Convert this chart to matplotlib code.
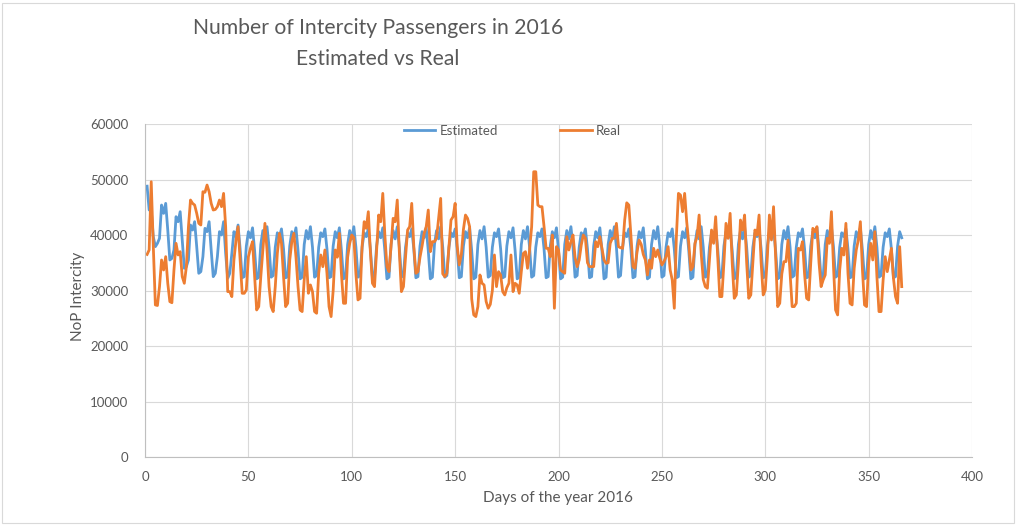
import numpy as np
import matplotlib.pyplot as plt
from matplotlib.patches import Rectangle

plt.rcParams['font.family'] = ['Lato', 'DejaVu Sans']

days = np.arange(1, 367)

# estimated passengers per day
estimated = [
    48800, 44500, 44500, 39700, 37900, 38500, 39400,
    45400, 43900, 45700, 40900, 35500, 35800, 37300,
    43300, 42400, 44200, 39100, 34000, 34300, 35500,
    41800, 40900, 42400, 37900, 33100, 33400, 36100,
    41200, 40600, 42400, 37300, 32500, 33100, 36100,
    40600, 40000, 42400, 36700, 32200, 33100, 36700,
    40600, 39700, 41800,
    37500, 32300, 32500, 38000, 40600, 39500, 41300,
    37200, 32100, 32400, 38300, 40800, 39300, 41500,
    37800, 32400, 32700, 37800, 40400, 39700, 41100,
    37500, 32300, 32500, 38000, 40600, 39500, 41300,
    37200, 32100, 32400, 38300, 40800, 39300, 41500,
    37800, 32400, 32700, 37800, 40400, 39700, 41100,
    37500, 32300, 32500, 38000, 40600, 39500, 41300,
    37200, 32100, 32400, 38300, 40800, 39300, 41500,
    37800, 32400, 32700, 37800, 40400, 39700, 41100,
    37500, 32300, 32500, 38000, 40600, 39500, 41300,
    37200, 32100, 32400, 38300, 40800, 39300, 41500,
    37800, 32400, 32700, 37800, 40400, 39700, 41100,
    37500, 32300, 32500, 38000, 40600, 39500, 41300,
    37200, 32100, 32400, 38300, 40800, 39300, 41500,
    37800, 32400, 32700, 37800, 40400, 39700, 41100,
    37500, 32300, 32500, 38000, 40600, 39500, 41300,
    37200, 32100, 32400, 38300, 40800, 39300, 41500,
    37800, 32400, 32700, 37800, 40400, 39700, 41100,
    37500, 32300, 32500, 38000, 40600, 39500, 41300,
    37200, 32100, 32400, 38300, 40800, 39300, 41500,
    37800, 32400, 32700, 37800, 40400, 39700, 41100,
    37500, 32300, 32500, 38000, 40600, 39500, 41300,
    37200, 32100, 32400, 38300, 40800, 39300, 41500,
    37800, 32400, 32700, 37800, 40400, 39700, 41100,
    37500, 32300, 32500, 38000, 40600, 39500, 41300,
    37200, 32100, 32400, 38300, 40800, 39300, 41500,
    37800, 32400, 32700, 37800, 40400, 39700, 41100,
    37500, 32300, 32500, 38000, 40600, 39500, 41300,
    37200, 32100, 32400, 38300, 40800, 39300, 41500,
    37800, 32400, 32700, 37800, 40400, 39700, 41100,
    37500, 32300, 32500, 38000, 40600, 39500, 41300,
    37200, 32100, 32400, 38300, 40800, 39300, 41500,
    37800, 32400, 32700, 37800, 40400, 39700, 41100,
    37500, 32300, 32500, 38000, 40600, 39500, 41300,
    37200, 32100, 32400, 38300, 40800, 39300, 41500,
    37800, 32400, 32700, 37800, 40400, 39700, 41100,
    37500, 32300, 32500, 38000, 40600, 39500, 41300,
    37200, 32100, 32400, 38300, 40800, 39300, 41500,
    37800, 32400, 32700, 37800, 40400, 39700, 41100,
    37500, 32300, 32500, 38000, 40600, 39500, 41300,
    37200, 32100, 32400, 38300, 40800, 39300, 41500,
    37800, 32400, 32700, 37800, 40400, 39700, 41100,
    37500, 32300, 32500, 38000, 40600, 39500, 41300,
    37200, 32100, 32400, 38300, 40800, 39300, 41500,
    37800, 32400, 32700, 37800, 40400, 39700, 41100,
    37500, 32300, 32500, 38000, 40600, 39500,
]

# real passengers per day
real = [
    36500, 37300, 49600, 38000, 27400, 27300, 30700,
    35500, 33700, 36100, 31300, 28000, 27800, 33700,
    38500, 36400, 37000, 32500, 31300, 34300, 41500,
    46300, 45700, 45400, 43900, 42100, 41800, 47800,
    47700, 49000, 47800, 45700, 44500, 44600, 45100,
    46300, 45100, 47500, 41500, 29800, 29800, 28900,
    35500, 39000, 41500, 35500, 29500, 29500, 30100,
    36100, 37600, 38800, 32500, 26500, 27100, 32500,
    37300, 42100, 37300, 30700, 27100, 26200, 30700,
    36700, 40300, 38500, 32500, 27100, 27700, 35500,
    38800, 40300, 36100, 30700, 26500, 26200, 32000,
    36100, 29500, 31000, 29800, 26200, 25900, 33100,
    36400, 34300, 37300, 33100, 27100, 25300, 30000,
    37300, 36000, 40300, 33000, 27700, 27700, 36000,
    38500, 40000, 39500, 33000, 28300, 28600, 38000,
    42400, 41200, 44200, 37000, 31300, 30700, 37000,
    43600, 42400, 47500, 40000, 34300, 33400, 38000,
    43000, 42400, 46300, 37000, 29800, 30700, 36000,
    40900, 41500, 45700, 38000, 33100, 33400, 36000,
    38000, 40300, 41500, 44500, 37000, 38800, 38800,
    39400, 43000, 46600, 33000, 32500, 33100, 38000,
    42700, 43300, 45700, 38000, 34600, 36500, 41000,
    43600, 43000, 41500, 28500, 25600, 25300, 27100,
    32800, 31300, 31000, 28000, 26800, 27500, 30000,
    36400, 30700, 33400, 32800, 29800, 29200, 30500,
    31300, 36400, 29800, 31300, 31000, 29500, 33400,
    36700, 37000, 34000, 37300, 41500, 51400, 51400,
    45400, 45100, 45100, 41500, 37600, 37600, 36100,
    40000, 26800, 37900, 37300, 33700, 33400, 33100,
    39700, 37300, 38800, 40000, 36000, 34300, 35500,
    38200, 40000, 39400, 35000, 34300, 34300, 34300,
    38800, 37900, 39700, 37600, 35500, 34900, 35000,
    38500, 39400, 39400, 42100, 37900, 37700, 37600,
    42700, 45800, 45400, 40000, 34300, 34000, 37000,
    39100, 38300, 36500, 35500, 32800, 35500, 34000,
    37600, 36100, 37300, 35800, 34600, 35200, 36100,
    37900, 33700, 31900, 26800, 39700, 47500, 47200,
    44200, 47500, 42400, 38500, 33700, 34300, 38500,
    39700, 43600, 36700, 32000, 30700, 30400, 35500,
    40900, 38500, 43300, 36000, 28900, 28900, 35000,
    42100, 39400, 43900, 35000, 28600, 29200, 35000,
    42700, 40900, 43600, 35000, 28600, 29200, 35000,
    40900, 40000, 43600, 35000, 29200, 30100, 36000,
    43600, 39100, 45100, 36000, 27100, 27700, 33000,
    35200, 35200, 39100, 33000, 27100, 27100, 27700,
    37600, 37300, 38800, 33000, 28600, 28300, 35000,
    41200, 40600, 41500, 35000, 30700, 31900, 32800,
    39400, 38500, 44200, 34300, 26500, 25600, 33700,
    37600, 36400, 42100, 33100, 27700, 27400, 34000,
    37300, 39100, 42400, 33700, 27400, 27100, 34900,
    38500, 35500, 40600, 32500, 26200, 26200, 31900,
    36100, 33400, 35500, 37600, 32200, 28900, 27700,
    37900, 30700,
]

fig = plt.figure(figsize=(10.22, 5.27), dpi=100)
ax = fig.add_axes([0.1419, 0.1328, 0.8092, 0.6319])

ax.plot(days, estimated, color='#5B9BD5', lw=2.0, label='Estimated')
ax.plot(days, real, color='#ED7D31', lw=2.0, label='Real')

ax.set_xlim(0, 400)
ax.set_ylim(0, 60000)
ax.set_xticks(range(0, 401, 50))
ax.set_yticks(range(0, 60001, 10000))
ax.grid(True, color='#d9d9d9', lw=0.8)
ax.set_axisbelow(True)
for s in ['top', 'right']:
    ax.spines[s].set_visible(False)
for s in ['left', 'bottom']:
    ax.spines[s].set_color('#bfbfbf')
ax.tick_params(length=0, labelsize=9.5, colors='#595959', pad=12)
ax.tick_params(axis='x', pad=10)

leg = ax.legend(loc='center', bbox_to_anchor=(0.444, 0.979), ncol=2, frameon=False,
                fontsize=9.5, handlelength=2.4, handletextpad=0.3, columnspacing=4.7,
                borderpad=0)
for t in leg.get_texts():
    t.set_color('#595959')

fig.text(0.370, 0.918, 'Number of Intercity Passengers in 2016\nEstimated vs Real',
         ha='center', va='center', fontsize=15.2, color='#595959', linespacing=1.7)
fig.text(0.0763, 1 - 296 / 527, 'NoP Intercity', rotation=90, ha='center', va='center',
         fontsize=11, color='#595959')
fig.text(0.546, 1 - 498 / 527, 'Days of the year 2016', ha='center', va='center',
         fontsize=11, color='#595959')

fig.patches.append(Rectangle((0.002, 0.008), 0.99, 0.986, transform=fig.transFigure,
                             fill=False, edgecolor='#d9d9d9', lw=0.8))

fig.savefig('out.png', dpi=100)
